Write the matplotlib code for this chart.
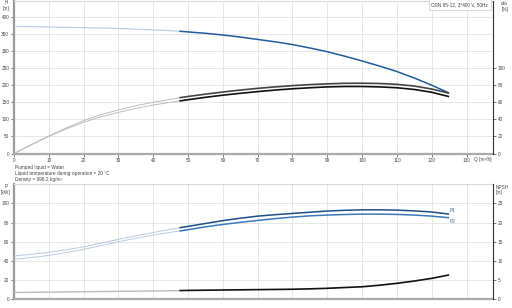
import matplotlib
matplotlib.use("Agg")
import matplotlib.pyplot as plt
import numpy as np

plt.rcParams['font.family'] = ['Liberation Sans', 'DejaVu Sans']

# ---------------- data ----------------
q = [0, 5, 10, 15, 20, 25, 30, 35, 40, 45, 47.5, 50, 55, 60, 65, 70, 75, 80,
     85, 90, 95, 100, 105, 110, 115, 120, 125]
q_min_op = 47.5

head = [372, 371.5, 370.5, 369.5, 368.5, 367.5, 366, 364, 362, 359.5, 358, 356,
        352, 347, 341, 334, 327, 319, 309, 298, 285, 271, 256, 240, 221, 200, 177]
eta_upper = [0, 10.5, 20.5, 30, 38.5, 45.5, 51, 56, 60, 63.5, 65.3, 66.8, 69.5,
             72, 74.3, 76.3, 78, 79.5, 80.7, 81.6, 82.2, 82.3, 82, 81, 79, 75.5, 70.6]
eta_lower = [0, 10.3, 20, 28.8, 36.5, 43, 48.2, 52.8, 56.8, 60, 61.5, 63, 65.8,
             68.3, 70.5, 72.5, 74.3, 75.8, 77, 78, 78.5, 78.5, 78, 77, 75, 71.7, 66.6]
p1 = [45, 46.8, 48.8, 51.5, 54.6, 58.4, 62.4, 66, 69.5, 73, 74.5, 76, 79, 82,
      84.5, 86.7, 88.2, 89.5, 90.8, 92, 92.8, 93.3, 93.3, 93, 92.2, 91, 88.8]
p2 = [41.5, 43.4, 45.6, 48.6, 51.9, 55.8, 59.9, 63.5, 66.9, 69.8, 71, 72.5, 75.5,
      78, 80.2, 82.2, 84.1, 85.7, 87, 87.8, 88.4, 88.8, 88.8, 88.5, 87.8, 86.7, 85]
npsh = [1.7, 1.75, 1.8, 1.85, 1.9, 1.95, 2.0, 2.05, 2.1, 2.15, 2.2, 2.25, 2.3,
        2.35, 2.4, 2.45, 2.5, 2.55, 2.65, 2.8, 3.0, 3.2, 3.6, 4.1, 4.7, 5.4, 6.3]

x_ticks = [0, 10, 20, 30, 40, 50, 60, 70, 80, 90, 100, 110, 120, 130]
h_ticks = [0, 50, 100, 150, 200, 250, 300, 350, 400]
eta_ticks = [0, 20, 40, 60, 80, 100]
p_ticks = [0, 20, 40, 60, 80, 100]
npsh_ticks = [0, 5, 10, 15, 20, 25]

title = "CRN 95-12, 3*400 V, 50Hz"
info = ["Pumped liquid = Water",
        "Liquid temperature during operation = 20 °C",
        "Density = 998.2 kg/m³"]

# ---------------- figure ----------------
W, H = 512, 308
fig = plt.figure(figsize=(W / 100, H / 100), dpi=100)

def frac(x0, y0, x1, y1):
    return [x0 / W, 1 - y1 / H, (x1 - x0) / W, (y1 - y0) / H]

ax1 = fig.add_axes(frac(14, 0.5, 493, 153.5))
ax2 = fig.add_axes(frac(14, 184.3, 493, 299))
XMAX = 137.6

FS = 3.4
TC = '#444444'

q_arr = np.array(q)
fade = q_arr <= q_min_op
solid = q_arr >= q_min_op


def seg(ax, y, c_fade, c_solid, lw_f=0.7, lw_s=1.3, ls_f='-', z=3):
    y = np.array(y)
    ax.plot(q_arr[fade], y[fade], color=c_fade, lw=lw_f, ls=ls_f, zorder=z,
            solid_capstyle='butt')
    ax.plot(q_arr[solid], y[solid], color=c_solid, lw=lw_s, zorder=z,
            solid_capstyle='butt')


def style(ax, yticks, ymax):
    ax.set_xlim(0, XMAX)
    ax.set_ylim(0, ymax)
    ax.set_xticks(x_ticks)
    ax.set_yticks(yticks)
    ax.grid(True, color='#e3e3e3', lw=0.6)
    ax.set_axisbelow(True)
    ax.spines['top'].set_color('#d8d8d8')
    ax.spines['top'].set_linewidth(0.8)
    ax.spines['right'].set_visible(False)
    ax.spines['left'].set_color('#999999')
    ax.spines['left'].set_linewidth(1.6)
    ax.spines['bottom'].set_color('#aaaaaa')
    ax.spines['bottom'].set_linewidth(1.6)
    ax.tick_params(axis='both', labelsize=FS, colors=TC, length=2, width=0.5,
                   pad=1.5)


# ---- top: head & efficiency ----
style(ax1, h_ticks, 448)
ax1.set_xticklabels([str(v) for v in x_ticks])
seg(ax1, head, '#b4cbe2', '#1f5c9e', lw_f=0.8, lw_s=1.1)

ax1r = ax1.twinx()
ax1r.set_ylim(0, 448 / 2.5)
ax1r.set_yticks(eta_ticks)
for s in ['top', 'left', 'bottom']:
    ax1r.spines[s].set_visible(False)
ax1r.spines['right'].set_color('#333333')
ax1r.spines['right'].set_linewidth(0.8)
ax1r.tick_params(axis='y', labelsize=FS, colors=TC, length=2, width=0.5, pad=1.5)
seg(ax1r, eta_upper, '#bdbdbd', '#444444', lw_f=0.7, lw_s=1.2)
seg(ax1r, eta_lower, '#bdbdbd', '#111111', lw_f=0.7, lw_s=1.2)

ax1.text(-0.017, 1.0, "H\n[m]", transform=ax1.transAxes, ha='center', va='top',
         fontsize=FS, color=TC, linespacing=1.1)
ax1r.text(1.017, 0.995, "eta\n[%]", transform=ax1r.transAxes, ha='left', va='top',
          fontsize=FS, color=TC, linespacing=1.1)
ax1.text(132.0, -0.022 * 448, "Q [m³/h]", ha='left', va='top', fontsize=FS,
         color=TC)
ax1r.text(0.99, 0.99, title, transform=ax1r.transAxes, ha='right', va='top',
          fontsize=FS, color=TC, zorder=10,
          bbox=dict(boxstyle='square,pad=0.6', fc='white', ec='#cccccc', lw=0.5))

# ---- info text ----
for i, t in enumerate(info):
    fig.text(15 / W, 1 - (168 + 6 * i) / H, t, ha='left', va='center',
             fontsize=FS, color=TC)

# ---- bottom: power & NPSH ----
style(ax2, p_ticks, 120)
ax2.set_xticklabels([])
ax2.tick_params(axis='x', length=0)
seg(ax2, p1, '#b9c9da', '#1d4f86', lw_f=0.7, lw_s=1.1)
seg(ax2, p2, '#b9cde2', '#3a79b9', lw_f=0.7, lw_s=1.1)

ax2r = ax2.twinx()
ax2r.set_ylim(0, 30)
ax2r.set_yticks(npsh_ticks)
for s in ['top', 'left', 'bottom']:
    ax2r.spines[s].set_visible(False)
ax2r.spines['right'].set_color('#333333')
ax2r.spines['right'].set_linewidth(0.8)
ax2r.tick_params(axis='y', labelsize=FS, colors=TC, length=2, width=0.5, pad=1.5)
seg(ax2r, npsh, '#bbbbbb', '#111111', lw_f=1.0, lw_s=1.2)

ax2.text(q[-1] + 1.1, p1[-1] + 1.5, "P1", ha='center', va='bottom', fontsize=FS,
         color='#3a5f8a')
ax2.text(q[-1] + 1.1, p2[-1] - 1.5, "P2", ha='center', va='top', fontsize=FS,
         color='#3a6f9f')
ax2.text(-0.017, 1.0, "P\n[kW]", transform=ax2.transAxes, ha='center', va='top',
         fontsize=FS, color=TC, linespacing=1.1)
ax2r.text(1.006, 0.995, "NPSH\n[m]", transform=ax2r.transAxes, ha='left', va='top',
          fontsize=FS, color=TC, linespacing=1.1)

fig.savefig("out.png", dpi=100)
